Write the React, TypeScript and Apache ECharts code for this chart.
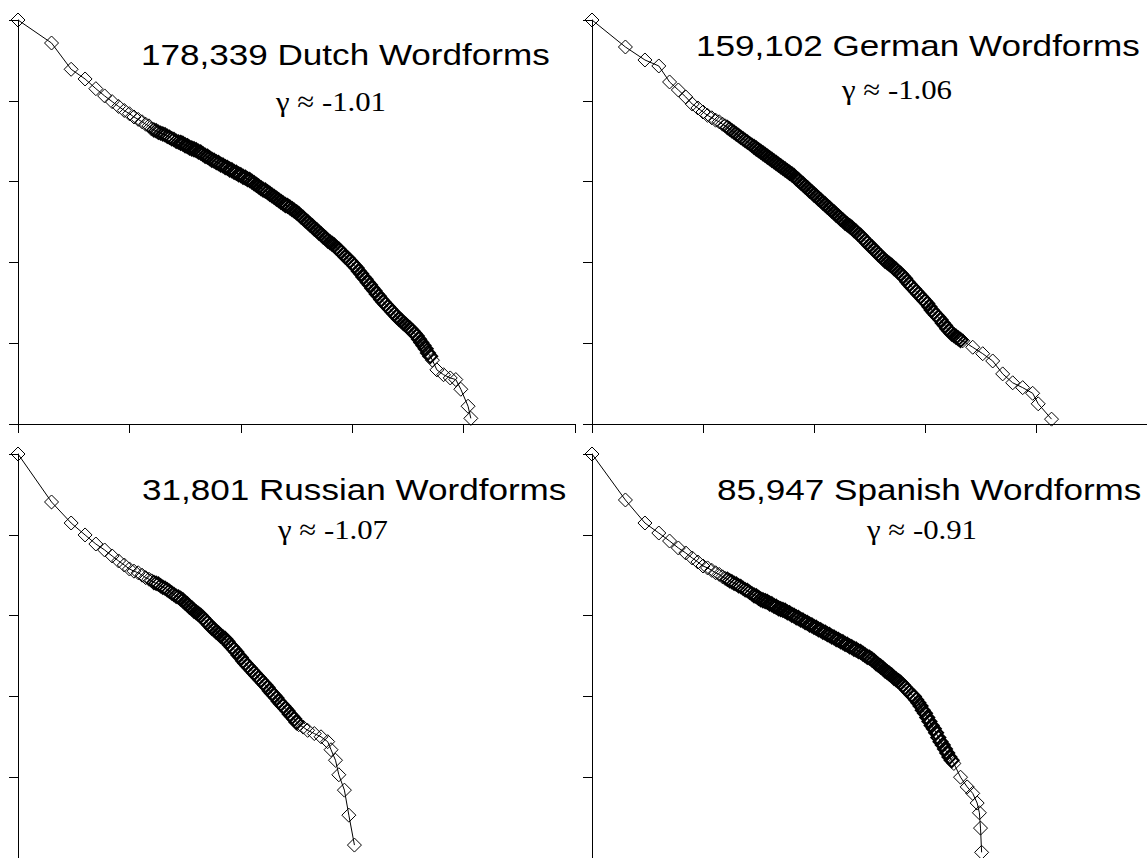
import React, { useEffect, useRef } from "react";
import * as echarts from "echarts";

// log10(rank) and log10(frequency)
const dutchLogRank = [0, 0.301, 0.477, 0.602, 0.699, 0.778, 0.845, 0.903, 0.954, 1.0, 1.041, 1.079, 1.114, 1.146, 1.176,
  1.20, 1.22, 1.24, 1.26, 1.28, 1.30, 1.32, 1.34, 1.36, 1.38, 1.40, 1.42, 1.44, 1.46, 1.48, 1.50, 1.52, 1.54, 1.56, 1.58,
  1.60, 1.62, 1.64, 1.66, 1.68, 1.70, 1.72, 1.74, 1.76, 1.78, 1.80, 1.82, 1.84, 1.86, 1.88, 1.90, 1.92, 1.94, 1.96, 1.98,
  2.00, 2.02, 2.04, 2.06, 2.08, 2.10, 2.12, 2.14, 2.16, 2.18, 2.20, 2.22, 2.24, 2.26, 2.28, 2.30, 2.32, 2.34, 2.36, 2.38,
  2.40, 2.42, 2.44, 2.46, 2.48, 2.50, 2.52, 2.54, 2.56, 2.58, 2.60, 2.62, 2.64, 2.66, 2.68, 2.70, 2.72, 2.74, 2.76, 2.78,
  2.80, 2.82, 2.84, 2.86, 2.88, 2.90, 2.92, 2.94, 2.96, 2.98, 3.00, 3.02, 3.04, 3.06, 3.08, 3.10, 3.12, 3.14, 3.16, 3.18,
  3.20, 3.22, 3.24, 3.26, 3.28, 3.30, 3.32, 3.34, 3.36, 3.38, 3.40, 3.42, 3.44, 3.46, 3.48, 3.50, 3.52, 3.54, 3.56, 3.58,
  3.60, 3.62, 3.64, 3.66, 3.68, 3.70, 3.72, 3.76, 3.82, 3.88, 3.93, 3.975, 4.04, 4.065];
const dutchLogFreq = [5.0, 4.715, 4.39, 4.27, 4.15, 4.06, 3.99, 3.93, 3.88, 3.84, 3.80, 3.77, 3.74, 3.71, 3.69,
  3.65, 3.64, 3.63, 3.61, 3.60, 3.59, 3.58, 3.56, 3.55, 3.53, 3.52, 3.50, 3.49, 3.48, 3.47, 3.45, 3.44, 3.42, 3.41, 3.40,
  3.39, 3.37, 3.36, 3.34, 3.32, 3.31, 3.29, 3.27, 3.26, 3.24, 3.23, 3.21, 3.20, 3.18, 3.17, 3.15, 3.14, 3.12, 3.11, 3.09,
  3.08, 3.06, 3.05, 3.03, 3.02, 3.00, 2.98, 2.96, 2.94, 2.92, 2.90, 2.89, 2.87, 2.85, 2.83, 2.81, 2.79, 2.77, 2.75, 2.73,
  2.71, 2.70, 2.68, 2.66, 2.64, 2.62, 2.60, 2.57, 2.55, 2.52, 2.50, 2.47, 2.45, 2.42, 2.40, 2.37, 2.35, 2.32, 2.30, 2.27,
  2.25, 2.23, 2.21, 2.18, 2.16, 2.13, 2.10, 2.07, 2.05, 2.02, 1.99, 1.96, 1.93, 1.89, 1.86, 1.82, 1.79, 1.75, 1.72, 1.68,
  1.65, 1.61, 1.58, 1.54, 1.51, 1.48, 1.45, 1.42, 1.39, 1.36, 1.33, 1.30, 1.28, 1.25, 1.23, 1.20, 1.18, 1.15, 1.12, 1.09,
  1.05, 1.01, 0.97, 0.93, 0.88, 0.84, 0.79, 0.67, 0.61, 0.57, 0.55, 0.43, 0.22, 0.07];

const germanLogRank = [0, 0.301, 0.477, 0.602, 0.699, 0.778, 0.845, 0.903, 0.954, 1.0, 1.041, 1.079, 1.114, 1.146, 1.176,
  1.20, 1.22, 1.24, 1.26, 1.28, 1.30, 1.32, 1.34, 1.36, 1.38, 1.40, 1.42, 1.44, 1.46, 1.48, 1.50, 1.52, 1.54, 1.56, 1.58,
  1.60, 1.62, 1.64, 1.66, 1.68, 1.70, 1.72, 1.74, 1.76, 1.78, 1.80, 1.82, 1.84, 1.86, 1.88, 1.90, 1.92, 1.94, 1.96, 1.98,
  2.00, 2.02, 2.04, 2.06, 2.08, 2.10, 2.12, 2.14, 2.16, 2.18, 2.20, 2.22, 2.24, 2.26, 2.28, 2.30, 2.32, 2.34, 2.36, 2.38,
  2.40, 2.42, 2.44, 2.46, 2.48, 2.50, 2.52, 2.54, 2.56, 2.58, 2.60, 2.62, 2.64, 2.66, 2.68, 2.70, 2.72, 2.74, 2.76, 2.78,
  2.80, 2.82, 2.84, 2.86, 2.88, 2.90, 2.92, 2.94, 2.96, 2.98, 3.00, 3.02, 3.04, 3.06, 3.08, 3.10, 3.12, 3.14, 3.16, 3.18,
  3.20, 3.22, 3.24, 3.26, 3.28, 3.30, 3.32, 3.34, 3.43, 3.52, 3.61, 3.70, 3.79, 3.88, 3.97, 4.02, 4.14];
const germanLogFreq = [5.0, 4.666, 4.505, 4.431, 4.233, 4.134, 4.047, 3.96, 3.911, 3.861, 3.82, 3.79, 3.76, 3.74, 3.71,
  3.69, 3.67, 3.65, 3.63, 3.61, 3.59, 3.57, 3.55, 3.53, 3.51, 3.49, 3.47, 3.45, 3.43, 3.41, 3.39, 3.37, 3.35, 3.33, 3.31,
  3.29, 3.27, 3.25, 3.23, 3.21, 3.19, 3.17, 3.15, 3.13, 3.11, 3.09, 3.07, 3.04, 3.02, 2.99, 2.97, 2.94, 2.92, 2.89, 2.87,
  2.84, 2.82, 2.79, 2.77, 2.74, 2.72, 2.69, 2.67, 2.64, 2.62, 2.59, 2.57, 2.54, 2.52, 2.49, 2.47, 2.45, 2.43, 2.40, 2.38,
  2.35, 2.33, 2.30, 2.27, 2.24, 2.21, 2.19, 2.16, 2.13, 2.10, 2.08, 2.05, 2.02, 2.00, 1.98, 1.96, 1.93, 1.91, 1.88, 1.86,
  1.83, 1.80, 1.76, 1.73, 1.70, 1.67, 1.64, 1.61, 1.58, 1.55, 1.52, 1.49, 1.45, 1.41, 1.38, 1.35, 1.32, 1.29, 1.25, 1.22,
  1.18, 1.15, 1.12, 1.10, 1.08, 1.06, 1.04, 1.03, 0.95, 0.87, 0.78, 0.62, 0.51, 0.45, 0.38, 0.25, 0.06];

const russianLogRank = [0, 0.301, 0.477, 0.602, 0.699, 0.778, 0.845, 0.903, 0.954, 1.0, 1.041, 1.079, 1.114, 1.146, 1.176,
  1.20, 1.22, 1.24, 1.26, 1.28, 1.30, 1.32, 1.34, 1.36, 1.38, 1.40, 1.42, 1.44, 1.46, 1.48, 1.50, 1.52, 1.54, 1.56, 1.58,
  1.60, 1.62, 1.64, 1.66, 1.68, 1.70, 1.72, 1.74, 1.76, 1.78, 1.80, 1.82, 1.84, 1.86, 1.88, 1.90, 1.92, 1.94, 1.96, 1.98,
  2.00, 2.02, 2.04, 2.06, 2.08, 2.10, 2.12, 2.14, 2.16, 2.18, 2.20, 2.22, 2.24, 2.26, 2.28, 2.30, 2.32, 2.34, 2.36, 2.38,
  2.40, 2.42, 2.44, 2.46, 2.48, 2.50, 2.52, 2.56, 2.60, 2.66, 2.72, 2.78, 2.81, 2.85, 2.88, 2.93, 2.97, 3.02];
const russianLogFreq = [5.0, 4.406, 4.146, 3.998, 3.886, 3.812, 3.738, 3.676, 3.626, 3.577, 3.55, 3.53, 3.50, 3.47, 3.45,
  3.43, 3.41, 3.40, 3.39, 3.37, 3.35, 3.34, 3.32, 3.30, 3.28, 3.26, 3.24, 3.23, 3.21, 3.19, 3.16, 3.14, 3.11, 3.09, 3.06,
  3.04, 3.02, 3.00, 2.97, 2.94, 2.91, 2.88, 2.85, 2.83, 2.80, 2.78, 2.75, 2.73, 2.71, 2.68, 2.64, 2.61, 2.58, 2.55, 2.51,
  2.48, 2.44, 2.41, 2.38, 2.35, 2.32, 2.29, 2.26, 2.23, 2.20, 2.17, 2.14, 2.11, 2.07, 2.04, 2.01, 1.98, 1.94, 1.91, 1.88,
  1.85, 1.82, 1.78, 1.75, 1.72, 1.68, 1.65, 1.62, 1.58, 1.54, 1.50, 1.44, 1.34, 1.21, 1.03, 0.84, 0.53, 0.16];

const spanishLogRank = [0, 0.301, 0.477, 0.602, 0.699, 0.778, 0.845, 0.903, 0.954, 1.0, 1.041, 1.079, 1.114, 1.146, 1.176,
  1.20, 1.22, 1.24, 1.26, 1.28, 1.30, 1.32, 1.34, 1.36, 1.38, 1.40, 1.42, 1.44, 1.46, 1.48, 1.50, 1.52, 1.54, 1.56, 1.58,
  1.60, 1.62, 1.64, 1.66, 1.68, 1.70, 1.72, 1.74, 1.76, 1.78, 1.80, 1.82, 1.84, 1.86, 1.88, 1.90, 1.92, 1.94, 1.96, 1.98,
  2.00, 2.02, 2.04, 2.06, 2.08, 2.10, 2.12, 2.14, 2.16, 2.18, 2.20, 2.22, 2.24, 2.26, 2.28, 2.30, 2.32, 2.34, 2.36, 2.38,
  2.40, 2.42, 2.44, 2.46, 2.48, 2.50, 2.52, 2.54, 2.56, 2.58, 2.60, 2.62, 2.64, 2.66, 2.68, 2.70, 2.72, 2.74, 2.76, 2.78,
  2.80, 2.82, 2.84, 2.86, 2.88, 2.90, 2.92, 2.94, 2.96, 2.98, 3.00, 3.02, 3.04, 3.06, 3.08, 3.10, 3.12, 3.14, 3.16, 3.18,
  3.20, 3.22, 3.24, 3.26, 3.32, 3.38, 3.43, 3.47, 3.49, 3.50, 3.51];
const spanishLogFreq = [5.0, 4.431, 4.146, 4.022, 3.923, 3.837, 3.775, 3.713, 3.663, 3.614, 3.59, 3.56, 3.53, 3.51, 3.48,
  3.46, 3.45, 3.43, 3.42, 3.40, 3.39, 3.37, 3.36, 3.34, 3.32, 3.31, 3.29, 3.27, 3.25, 3.24, 3.22, 3.20, 3.19, 3.18, 3.17,
  3.15, 3.14, 3.12, 3.11, 3.09, 3.08, 3.07, 3.06, 3.04, 3.03, 3.01, 3.00, 2.98, 2.97, 2.95, 2.94, 2.92, 2.91, 2.89, 2.88,
  2.86, 2.85, 2.83, 2.82, 2.80, 2.79, 2.77, 2.76, 2.74, 2.73, 2.71, 2.70, 2.68, 2.67, 2.65, 2.64, 2.62, 2.61, 2.59, 2.58,
  2.56, 2.55, 2.53, 2.51, 2.49, 2.48, 2.46, 2.44, 2.41, 2.39, 2.37, 2.35, 2.32, 2.30, 2.28, 2.26, 2.23, 2.21, 2.19, 2.17,
  2.14, 2.11, 2.08, 2.05, 2.02, 2.00, 1.96, 1.92, 1.88, 1.83, 1.79, 1.74, 1.69, 1.64, 1.60, 1.55, 1.49, 1.44, 1.40, 1.35,
  1.30, 1.25, 1.21, 1.17, 1.00, 0.88, 0.80, 0.68, 0.56, 0.37, 0.07];

const panelTitles = ["178,339 Dutch Wordforms", "159,102 German Wordforms", "31,801 Russian Wordforms", "85,947 Spanish Wordforms"];
const panelGammas = ["γ ≈ -1.01", "γ ≈ -1.06", "γ ≈ -1.07", "γ ≈ -0.91"];

const panels = [
  { xs: dutchLogRank, ys: dutchLogFreq },
  { xs: germanLogRank, ys: germanLogFreq },
  { xs: russianLogRank, ys: russianLogFreq },
  { xs: spanishLogRank, ys: spanishLogFreq },
];

const GRID_W = 557;
const GRID_H = 404;
const gridPos = [
  { left: 18, top: 20 },
  { left: 592, top: 20 },
  { left: 18, top: 454 },
  { left: 592, top: 454 },
];
const titlePos = [
  { x: 141, y: 54.6, gx: 331, gy: 101 },
  { x: 696, y: 45, gx: 897, gy: 89 },
  { x: 142, y: 489.6, gx: 333, gy: 529 },
  { x: 717, y: 489.6, gx: 922, gy: 529 },
];

export default function App() {
  const ref = useRef<HTMLDivElement>(null);
  useEffect(() => {
    if (!ref.current) return;
    const chart = echarts.init(ref.current, null, { renderer: "svg" });
    const axisCommon = {
      type: "value",
      min: 0,
      max: 5,
      interval: 1,
      axisLine: { show: true, onZero: false, lineStyle: { color: "#000", width: 1 } },
      axisTick: { show: true, inside: false, length: 9, lineStyle: { color: "#000", width: 1 } },
      axisLabel: { show: false },
      splitLine: { show: false },
    };
    // heavier outlines where markers pile up into a solid band
    const pxY = GRID_H / 5;
    const isClose = (xs: number[], ys: number[], a: number, b: number) =>
      Math.abs(xs[a] - xs[b]) <= 0.021 && Math.abs(ys[a] - ys[b]) * pxY < 6;
    const buildData = (xs: number[], ys: number[]) =>
      xs.map((x, k) => {
        const cp = k > 0 ? isClose(xs, ys, k, k - 1) : false;
        const cn = k < xs.length - 1 ? isClose(xs, ys, k, k + 1) : false;
        const dense = cp && cn;
        const bw = dense ? (x > 1.45 ? 2 : 1.4) : 1;
        return { value: [x, ys[k]], itemStyle: { borderWidth: bw } };
      });
    const option: any = {
      animation: false,
      backgroundColor: "#fff",
      grid: gridPos.map((g) => ({ left: g.left, top: g.top, width: GRID_W, height: GRID_H })),
      xAxis: gridPos.map((_, i) => ({ ...axisCommon, gridIndex: i })),
      yAxis: gridPos.map((_, i) => ({ ...axisCommon, gridIndex: i })),
      series: panels.map((p, i) => ({
        type: "line",
        xAxisIndex: i,
        yAxisIndex: i,
        data: buildData(p.xs, p.ys),
        symbol: "diamond",
        symbolSize: 14,
        showSymbol: true,
        showAllSymbol: true,
        lineStyle: { color: "#000", width: 1 },
        itemStyle: { color: "rgba(0,0,0,0)", borderColor: "#000", borderWidth: 1 },
        emphasis: { disabled: true },
      })),
      graphic: titlePos.flatMap((t, i) => [
        {
          type: "text",
          x: t.x,
          y: t.y,
          scaleX: 1.17,
          style: {
            text: panelTitles[i],
            fill: "#000",
            font: "30px 'Liberation Sans', Arial, sans-serif",
            textAlign: "left",
            textVerticalAlign: "middle",
          },
        },
        {
          type: "text",
          x: t.gx,
          y: t.gy,
          scaleX: 1.1,
          style: {
            text: panelGammas[i],
            fill: "#000",
            font: "28px 'Liberation Serif', 'Times New Roman', serif",
            textAlign: "center",
            textVerticalAlign: "middle",
          },
        },
      ]),
    };
    chart.setOption(option);
    return () => chart.dispose();
  }, []);
  return (
    <div
      ref={ref}
      style={{ position: "absolute", left: 0, top: 0, width: 1147, height: 858 }}
    />
  );
}
